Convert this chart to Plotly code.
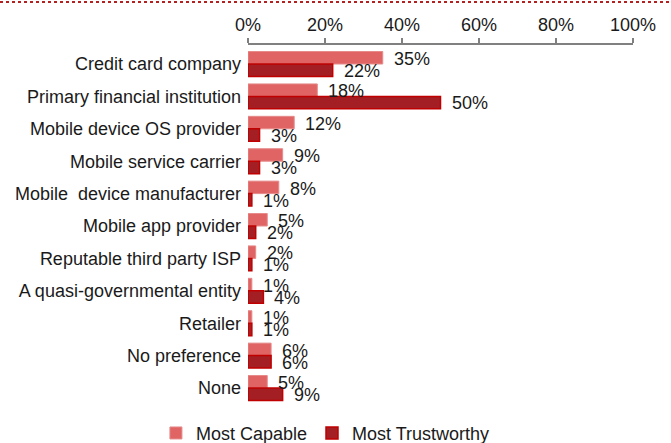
import plotly.graph_objects as go

categories = ['Credit card company', 'Primary financial institution', 'Mobile device OS provider',
              'Mobile service carrier', 'Mobile  device manufacturer', 'Mobile app provider',
              'Reputable third party ISP', 'A quasi-governmental entity', 'Retailer',
              'No preference', 'None']
most_capable = [35, 18, 12, 9, 8, 5, 2, 1, 1, 6, 5]
most_trustworthy = [22, 50, 3, 3, 1, 2, 1, 4, 1, 6, 9]
tick_vals = [0, 20, 40, 60, 80, 100]
tick_text = ['0%', '20%', '40%', '60%', '80%', '100%']

FONT = 'Liberation Sans, Arial'
TXT = '#1a1a1a'

fig = go.Figure()

fig.add_trace(go.Bar(
    name='Most Capable',
    y=categories,
    x=most_capable,
    orientation='h',
    marker=dict(color='#E06464', line=dict(color='#E68A8A', width=1)),
))

fig.add_trace(go.Bar(
    name='Most Trustworthy',
    y=categories,
    x=most_trustworthy,
    orientation='h',
    marker=dict(color='#A31F24', line=dict(color='#C00000', width=1.5)),
))

# value labels next to the bars
for cat, v in zip(categories, most_capable):
    fig.add_annotation(x=v, y=cat, text=f'{v}%', showarrow=False,
                       xanchor='left', xshift=9, yshift=5,
                       font=dict(family=FONT, size=18, color=TXT))
for cat, v in zip(categories, most_trustworthy):
    fig.add_annotation(x=v, y=cat, text=f'{v}%', showarrow=False,
                       xanchor='left', xshift=9, yshift=-7,
                       font=dict(family=FONT, size=18, color=TXT))

fig.update_layout(
    width=671,
    height=443,
    margin=dict(l=248, r=38, t=45, b=38),
    paper_bgcolor='white',
    plot_bgcolor='white',
    font=dict(family=FONT, size=18, color=TXT),
    barmode='group',
    bargap=0.23,
    bargroupgap=0,
    showlegend=True,
    legend=dict(orientation='h', xref='container', yref='container',
                x=0.485, xanchor='center', y=0.022, yanchor='middle',
                font=dict(size=18), itemwidth=30, traceorder='normal'),
)

fig.update_xaxes(
    side='top',
    range=[0, 100],
    tickvals=tick_vals,
    ticktext=tick_text,
    showgrid=False,
    zeroline=False,
    showline=True,
    linecolor='#808080',
    linewidth=2,
    ticks='outside',
    ticklen=5,
    tickwidth=2,
    tickcolor='#808080',
    tickfont=dict(size=18),
    automargin=False,
)

fig.update_yaxes(
    autorange='reversed',
    showgrid=False,
    showline=False,
    ticks='',
    ticklabelstandoff=6,
    tickfont=dict(size=18),
    automargin=False,
)

# dotted border at the top of the page
fig.add_shape(type='line', xref='paper', yref='paper',
              x0=-248 / 385, x1=1 + 38 / 385, y0=1 + 43 / 360, y1=1 + 43 / 360,
              line=dict(color='#B22222', width=2, dash='dot'))

# no page margin, so the figure sits at the window's corner
fig.write_html('out.html', config={'displayModeBar': False},
               post_script="document.body.style.margin='0';")
